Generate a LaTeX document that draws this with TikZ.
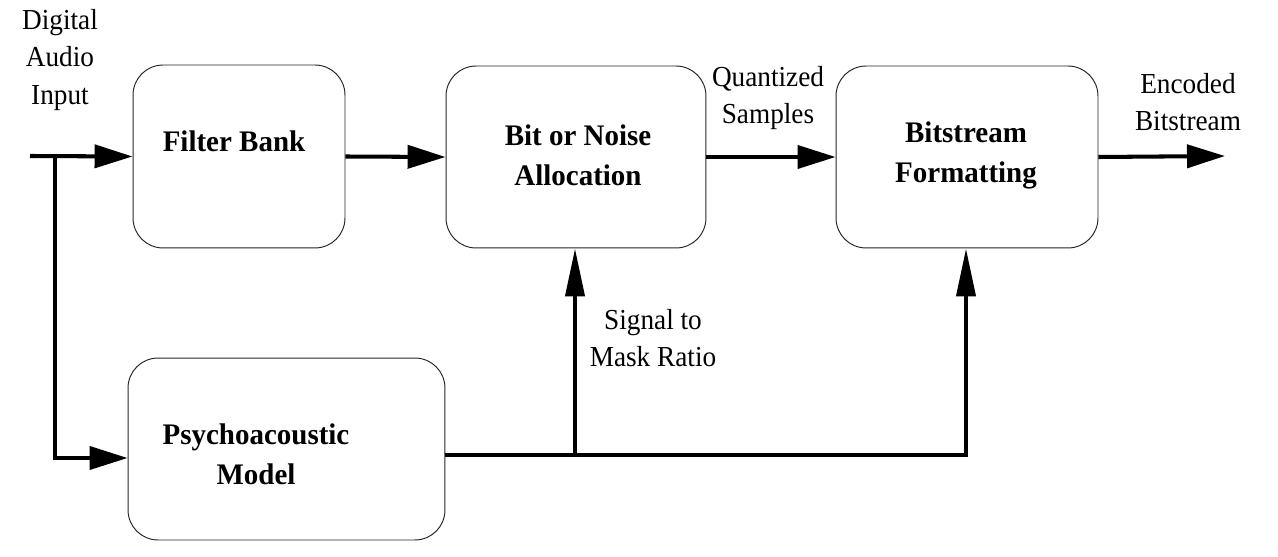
\documentclass[tikz,border=0pt]{standalone}
\usepackage{fontspec}
\setmainfont{Liberation Serif}
\newfontfamily\narrowserif[FakeStretch=0.94]{Liberation Serif}
\newfontfamily\boldserif[FakeStretch=0.97]{Liberation Serif Bold}
\usetikzlibrary{arrows.meta}

\begin{document}
\begin{tikzpicture}[x=0.02cm, y=-0.02cm,
  box/.style={draw=black!85, line width=0.55pt, rounded corners=0.6cm, inner sep=0pt},
  boxtext/.style={inner sep=0pt, align=center, font=\fontsize{17}{22.8}\selectfont\boldserif},
  note/.style={inner sep=0pt, align=center, font=\fontsize{16.5}{21.3}\selectfont\narrowserif},
  wire/.style={draw, line width=2.3pt},
  arr/.style={wire, -{Triangle[length=0.76cm, width=0.46cm]}},
  uparr/.style={wire, -{Triangle[length=0.96cm, width=0.38cm]}}]
\useasboundingbox (0,0) rectangle (1278,557);
\node[box, minimum width=4.24cm, minimum height=3.66cm] (FB) at (239,156.5) {};
\node[box, minimum width=5.2cm, minimum height=3.64cm] (BA) at (576,157) {};
\node[box, minimum width=5.24cm, minimum height=3.64cm] (BF) at (967,157) {};
\node[box, minimum width=6.34cm, minimum height=3.64cm] (PM) at (286.5,449) {};
\node[boxtext] (FBt) at (234,141) {Filter Bank};
\node[boxtext] (BAt) at (578,155) {Bit or Noise\\Allocation};
\node[boxtext] (BFt) at (966,155) {Bitstream\\Formatting};
\node[boxtext] (PMt) at (256,454) {Psychoacoustic\\Model};
\node[note] (IN) at (60,60) {Digital\\Audio\\Input};
\node[note] (QS) at (768,98) {Quantized\\Samples};
\node[note] (EB) at (1188,102) {Encoded\\Bitstream};
\node[note] (SMR) at (653,338) {Signal to\\Mask Ratio};
\coordinate (C0) at (30,156);
\coordinate (J0) at (55,156);
\coordinate (J1) at (55,458);
\coordinate (P0) at (445,455);
\coordinate (S1) at (575,455);
\coordinate (S2) at (966,455);
\coordinate (C1) at (1225,156);
\draw[arr] (C0) -- (FB.west);
\draw[arr] (J0) -- (J1) -- (J1 -| PM.west);
\draw[arr] (FB.east) -- (BA.west);
\draw[arr] (BA.east) -- (BF.west);
\draw[arr] (BF.east) -- (C1);
\draw[uparr] (P0) -- (S2) -- (S2 |- BF.south);
\draw[uparr] (S1) -- (S1 |- BA.south);
\end{tikzpicture}
\end{document}
